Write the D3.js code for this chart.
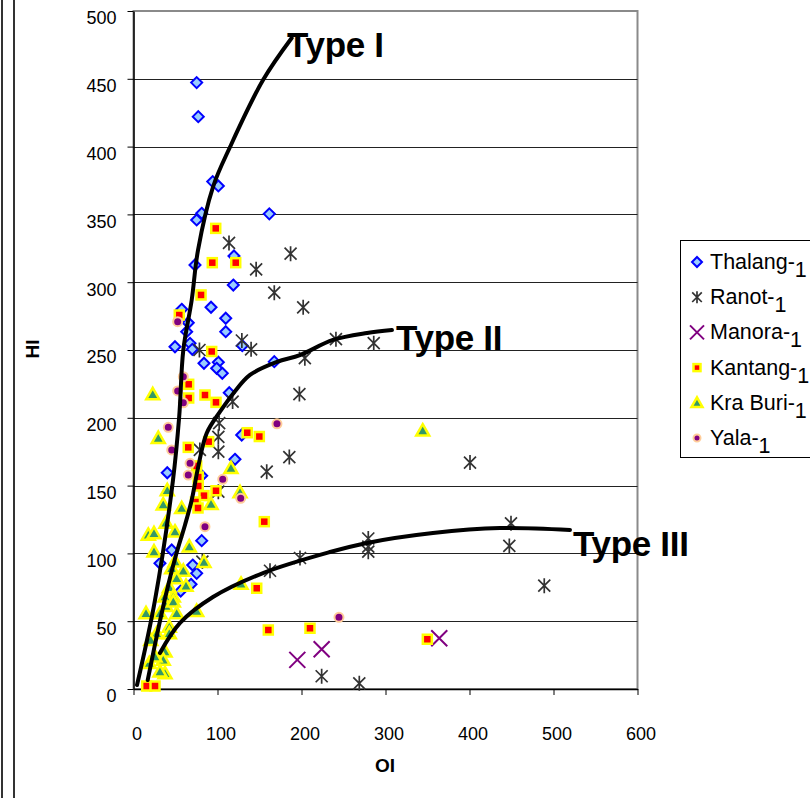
<!DOCTYPE html>
<html><head><meta charset="utf-8">
<script src="https://cdn.jsdelivr.net/npm/d3@7"></script>
<style>html,body{margin:0;padding:0;background:#fff;}svg{display:block;font-family:"Liberation Sans",Arial,sans-serif;}</style>
</head><body>
<svg id="chart" width="810" height="798"></svg>
<script>
// ---- data ----
const xTicks = [0,100,200,300,400,500,600];
const yTicks = [0,50,100,150,200,250,300,350,400,450,500];
const seriesNames = ["Thalang","Ranot","Manora","Kantang","Kra Buri","Yala"];

const thalang = [[75.2,447.2],[77.1,422.1],[94.3,374.2],[101,371],[81.2,350.8],[75.2,345.9],[161.7,350.4],
 [73.2,312.7],[119.6,319.3],[118.8,297.9],[92.3,281.5],[109.8,273.4],[109.8,263.5],[57.4,280],[65.2,270.1],
 [63.3,263.5],[49.4,252.4],[67.3,254.9],[70,250.5],[83.9,240.2],[101,241],[99,236.5],[105.7,232.8],[129.5,253.2],
 [167.6,241.4],[114,218.5],[128.8,187.3],[120.8,169.4],[40.2,159.5],[81.2,157.3],
 [81.2,109.4],[45.5,102.5],[31.5,92.7],[70.5,91.4],[75.2,85.3],[68.5,77.2],[56.2,72.3]];
const ranot = [[113.7,329],[187,321],[146,309.5],[167.6,292.3],[202,281.5],[129,257],[140,250.5],[241,258],
 [286,255],[204,244],[197.5,217.5],[118,212],[78.5,250],[102,196],[101,186],[101,175],[79,176.3],[101,145.5],
 [158.6,160.3],[185.5,171],[82,94],[400.6,167],[449.4,122.2],[447.4,105.5],[489,76.2],[279.5,111],[279.5,105],
 [279.5,101.3],[198.2,96.6],[224,9.4],[268.8,4.2],[162.5,87.2]];
const manora = [[195,21.5],[224,29.3],[364,37.4]];
const kantang = [[97.9,339.7],[93.8,314.4],[121.7,314.4],[80.4,290.6],[54.5,275.8],[93.1,248.9],[65.7,224.7],
 [65.7,214.6],[85.1,216.8],[98.2,211.4],[135.4,189],[149.8,186.2],[65.2,178.2],[89.5,182.4],[75.2,164.5],
 [77.1,156.3],[77.1,149.7],[83.9,142.6],[98.2,146.2],[73.8,137.9],[76.8,133.5],[155.7,123.4],[146.7,74.3],
 [160.5,43.5],[210.1,44.8],[349.8,36.7],[15.7,2.2],[25.6,2.2]];
const kraBuri = [[22.9,217.3],[29.5,185],[116,162.8],[126.8,145],[40.2,146.5],[35.4,136],[57.4,133.3],[92.3,136.4],
 [38.7,122.6],[17.6,113.6],[24.4,114.8],[49.4,116],[66.4,105],[24.4,101.3],[49.4,94],[45.5,89],[59.3,87.2],
 [83.9,93.5],[51.4,81.6],[42.6,75],[62.5,76],[47.4,68.1],[37.5,68.1],[38.7,61.2],[47.4,64.4],[14.9,55.8],
 [31.5,55.8],[51.4,55.8],[75.2,57.5],[42.6,45.9],[42.6,41],[27.6,41],[20.5,36.1],[37.5,27.5],[35.4,21.4],
 [18.8,19],[37.5,11.6],[31.5,12.8],[25.6,23.8],[128,77.5],[344.3,190.5]];
const yala = [[52.6,270.9],[59.3,230.3],[52.6,219.8],[59.3,211.1],[41.4,193],[45.5,176.3],[67.3,166.4],
 [65.2,157.8],[106.2,154.6],[127.6,140.6],[170.8,195.6],[85.1,119.7],[244.6,52.9]];

const typeNames = ["Type I","Type II","Type III"];
const typeI = [[4.2,3],[25.6,65.6],[47,154],[54.4,200.8],[59.3,250],[69.3,286.9],[76.8,323.7],[94.6,370.2],[114.9,399.7],[154.2,449.1],[188.3,480.1]];
const typeII = [[16.9,6.6],[29.2,43.5],[39.9,73],[50.6,98.8],[61.3,121],[69.3,139.4],[77.1,164],[87.1,188.6],[103,204.5],[118.8,218],[138.7,231.6],[170.8,241.2],[198.2,246.3],[237.5,257.4],[278,262.5],[307.7,264.7]];
const typeIII = [[31.5,26.5],[55.4,48.7],[94.6,67.8],[154.2,85.5],[234,101],[278,107.7],[356.5,115],[436.3,118.7],[519.6,117.3]];

// ---- layout ----
const svg = d3.select("#chart");
const x = d3.scaleLinear().domain([0,600]).range([133.5,637.5]);
const y = d3.scaleLinear().domain([0,500]).range([689,11]);

// outer frame lines (left)
svg.append("line").attr("x1",2).attr("x2",2).attr("y1",0).attr("y2",798).attr("stroke","#333").attr("stroke-width",2);
svg.append("line").attr("x1",14).attr("x2",14).attr("y1",0).attr("y2",798).attr("stroke","#333").attr("stroke-width",2);

// plot border (top/right gray)
svg.append("rect").attr("x",x(0)).attr("y",y(500)).attr("width",x(600)-x(0)).attr("height",y(0)-y(500))
  .attr("fill","none").attr("stroke","#8a8a8a").attr("stroke-width",2);

// gridlines
svg.append("g").selectAll("line").data(yTicks.filter(d=>d>0 && d<500)).join("line")
  .attr("x1",x(0)).attr("x2",x(600)).attr("y1",d=>Math.round(y(d))+0.5).attr("y2",d=>Math.round(y(d))+0.5)
  .attr("stroke","#222").attr("stroke-width",1);

// axes
const yAxis = svg.append("g").attr("transform",`translate(${x(0)},0)`)
  .call(d3.axisLeft(y).tickValues(yTicks).tickSize(6).tickPadding(11).tickSizeOuter(0));
const xAxis = svg.append("g").attr("transform",`translate(0,${y(0)})`)
  .call(d3.axisBottom(x).tickValues(xTicks).tickSize(6).tickPadding(32).tickSizeOuter(0));
[yAxis,xAxis].forEach(a=>{
  a.select(".domain").attr("stroke","#000").attr("stroke-width",1.5);
  a.selectAll(".tick line").attr("stroke","#000");
  a.selectAll("text").attr("font-size",18).attr("font-family","Liberation Sans, Arial, sans-serif").attr("fill","#000");
});
yAxis.selectAll("text").attr("dy","0.72em");
xAxis.selectAll("text").attr("dx",3);

// axis titles
svg.append("text").attr("x",385).attr("y",772).attr("text-anchor","middle").attr("font-size",19).attr("font-weight","bold").text("OI");
svg.append("text").attr("transform","translate(39,349) rotate(-90)").attr("text-anchor","middle").attr("font-size",19).attr("font-weight","bold").text("HI");

// marker drawing
function drawMarker(g, type, s){
  if(type===0){
    g.append("path").attr("d",`M0,${-s}L${s},0L0,${s}L${-s},0Z`).attr("fill","#99CCFF").attr("stroke","#0000FF").attr("stroke-width",2);
  } else if(type===1){
    const a=s*0.8;
    g.append("path").attr("d",`M${-a},${-a}L${a},${a}M${-a},${a}L${a},${-a}M0,${-s}L0,${s}`).attr("stroke","#333").attr("stroke-width",1.7).attr("fill","none");
  } else if(type===2){
    g.append("path").attr("d",`M${-s},${-s}L${s},${s}M${-s},${s}L${s},${-s}`).attr("stroke","#800080").attr("stroke-width",2).attr("fill","none");
  } else if(type===3){
    g.append("rect").attr("x",-s).attr("y",-s).attr("width",2*s).attr("height",2*s).attr("fill","#FF0000").attr("stroke","#FFFF00").attr("stroke-width",2.5);
  } else if(type===4){
    g.append("path").attr("d",`M0,${-s}L${s},${s*0.75}L${-s},${s*0.75}Z`).attr("fill","#339966").attr("stroke","#FFFF00").attr("stroke-width",2.5);
  } else {
    g.append("circle").attr("r",s).attr("fill","#800080").attr("stroke","#FFCC99").attr("stroke-width",2);
  }
}
const allSeries = [thalang,ranot,manora,kantang,kraBuri,yala];
const plotSizes = [5.5,7.5,8,4.5,6.5,4.5];
const legendSizes = [5,6,7,3.5,5.5,3.5];
const pts = svg.append("g");
allSeries.forEach((data,i)=>{
  data.forEach(d=>{
    const g = pts.append("g").attr("transform",`translate(${x(d[0])},${y(d[1])})`);
    drawMarker(g,i,plotSizes[i]);
  });
});

// trend curves
const line = d3.line().x(d=>x(d[0])).y(d=>y(d[1])).curve(d3.curveCatmullRom.alpha(0.5));
[typeI,typeII,typeIII].forEach(c=>{
  svg.append("path").attr("d",line(c)).attr("fill","none").attr("stroke","#000").attr("stroke-width",4).attr("stroke-linecap","round");
});
const typeLabelPos = [[287,57],[396,350],[573,556]];
typeNames.forEach((t,i)=>{
  svg.append("text").attr("x",typeLabelPos[i][0]).attr("y",typeLabelPos[i][1]).attr("font-size",35).attr("font-weight","bold").attr("letter-spacing",-0.3).text(t);
});

// legend
const lg = svg.append("g");
lg.append("rect").attr("x",680.5).attr("y",240.5).attr("width",140).attr("height",217).attr("fill","#fff").attr("stroke","#000").attr("stroke-width",1);
seriesNames.forEach((n,i)=>{
  const cy = 262 + i*35.2;
  const g = lg.append("g").attr("transform",`translate(697,${cy})`);
  drawMarker(g,i,legendSizes[i]);
  const t = lg.append("text").attr("x",710).attr("y",cy+7).attr("font-size",21.5).attr("fill","#000");
  t.append("tspan").text(n+"-");
  t.append("tspan").attr("dy",8).text("1");
});
</script>
</body></html>
